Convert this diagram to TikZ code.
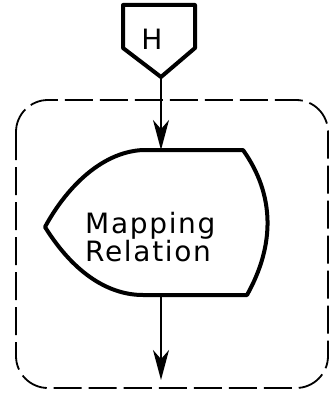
\documentclass[tikz,border=0pt]{standalone}
\usepackage{fontspec}
\usepackage{tikz}
\usetikzlibrary{arrows.meta}
\newfontfamily\handfont[LetterSpace=6]{DejaVu Sans}
\newcommand{\handsize}{\handfont\fontsize{28}{34}\selectfont}

\begin{document}
\begin{tikzpicture}[x=1pt,y=-1pt,
  thickline/.style={line width=4pt,line join=round},
  flowarrow/.style={line width=1.8pt,-{Stealth[length=30pt,width=16pt,inset=9pt]}},
  handtext/.style={inner sep=0pt}]
\useasboundingbox (0,0) rectangle (336,393);
% outer dashed frame
\draw [line width=1.8pt,dash pattern=on 28pt off 7pt,rounded corners=32pt] (16,100) rectangle (328,388);
% input H
\draw [thickline] (123,5) -- (195,5) -- (195,48) -- (161,77) -- (123,48) -- cycle;
\node [handtext] (hLabel) at (152,39) {\handsize H};
\coordinate (hTip) at (161,77);
% mapping relation shape
\draw [thickline] (143,150) -- (243,150)
  .. controls (275,195) and (275,245) .. (247,295) -- (143,295)
  .. controls (110,295) and (75,275) .. (45,227)
  .. controls (65,190) and (100,152) .. (143,150) -- cycle;
\node [handtext,align=left,anchor=north west] (mapText) at (85,212) {\handsize Mapping\\\handsize Relation};
\coordinate (mapTop) at (161,150);
\coordinate (mapBot) at (161,295);
\coordinate (outEnd) at (161,380);
% connectors
\draw [flowarrow] (hTip) -- (mapTop);
\draw [flowarrow] (mapBot) -- (outEnd);
\end{tikzpicture}
\end{document}
